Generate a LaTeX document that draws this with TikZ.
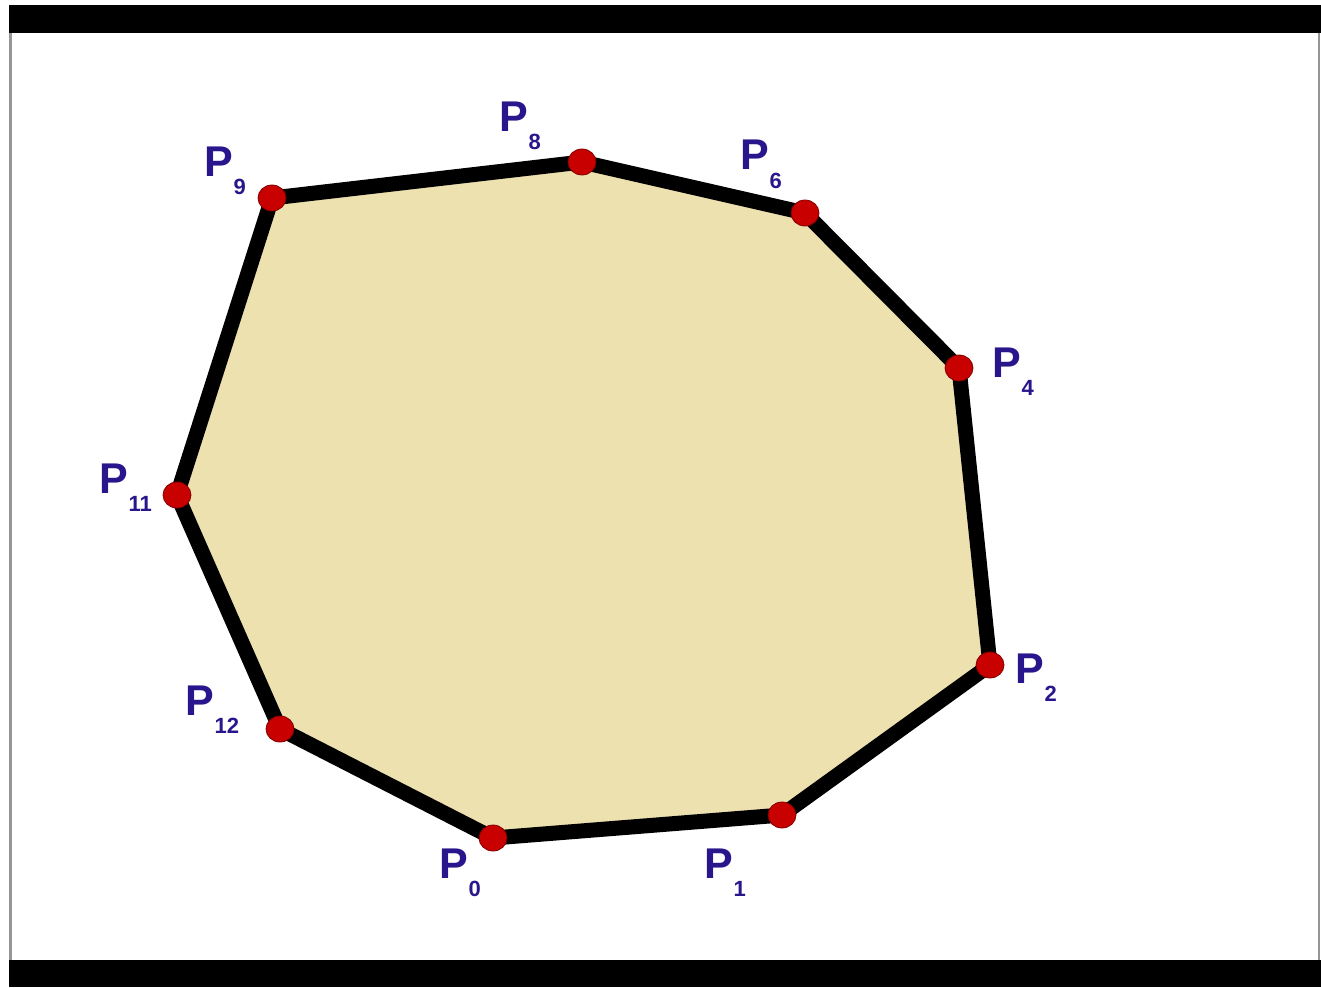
\documentclass[tikz,border=0pt]{standalone}
\usepackage{fontspec}
\setmainfont{Liberation Sans}
\usetikzlibrary{shapes.geometric}
\definecolor{polyfill}{RGB}{237,225,176}
\definecolor{dotred}{RGB}{200,0,0}
\definecolor{dotedge}{RGB}{130,0,0}
\definecolor{lblblue}{RGB}{42,22,140}
\definecolor{framegray}{RGB}{150,150,150}
\newcommand{\subfnt}{\fontsize{22}{22}\selectfont}
\newcommand{\plab}[1]{P\kern1pt\raisebox{-18pt}{\subfnt #1}}
\begin{document}
\begin{tikzpicture}[x=1pt,y=-1pt,
  vdot/.style={ellipse,minimum width=28pt,minimum height=26pt,inner sep=0pt,fill=dotred,draw=dotedge,line width=0.8pt},
  plbl/.style={anchor=base west,inner sep=0pt,outer sep=0pt,text=lblblue,font=\fontsize{43}{43}\selectfont\bfseries},
  edge/.style={line width=15pt,line join=round,draw=black}]
\useasboundingbox (0,0) rectangle (1321,987);
\fill[white] (0,0) rectangle (1321,987);
% frame
\fill[black] (9,5) rectangle (1321,33);
\fill[black] (9,960) rectangle (1321,987);
\fill[framegray] (9,33) rectangle (11.5,960);
\fill[framegray] (1317.5,33) rectangle (1320,960);
% vertices
\coordinate (v0) at (493,838);
\coordinate (v1) at (782,815);
\coordinate (v2) at (990,665);
\coordinate (v4) at (959,368);
\coordinate (v6) at (805,213);
\coordinate (v8) at (582,162);
\coordinate (v9) at (272,198);
\coordinate (v11) at (177,495);
\coordinate (v12) at (280,729);
\filldraw[fill=polyfill,edge] (v0) -- (v1) -- (v2) -- (v4) -- (v6) -- (v8) -- (v9) -- (v11) -- (v12) -- cycle;
\foreach \v in {0,1,2,4,6,8,9,11,12}{
  \node[vdot] (d\v) at (v\v) {};
}
% labels
\node[plbl] (l0) at (439,878) {\plab{0}};
\node[plbl] (l1) at (704,878) {\plab{1}};
\node[plbl] (l2) at (1015,683) {\plab{2}};
\node[plbl] (l4) at (992,377) {\plab{4}};
\node[plbl] (l6) at (740,170) {\plab{6}};
\node[plbl] (l8) at (499,132) {\plab{8}};
\node[plbl] (l9) at (204,176) {\plab{9}};
\node[plbl] (l11) at (99,493) {\plab{11}};
\node[plbl] (l12) at (185,715) {\plab{12}};
\end{tikzpicture}
\end{document}
